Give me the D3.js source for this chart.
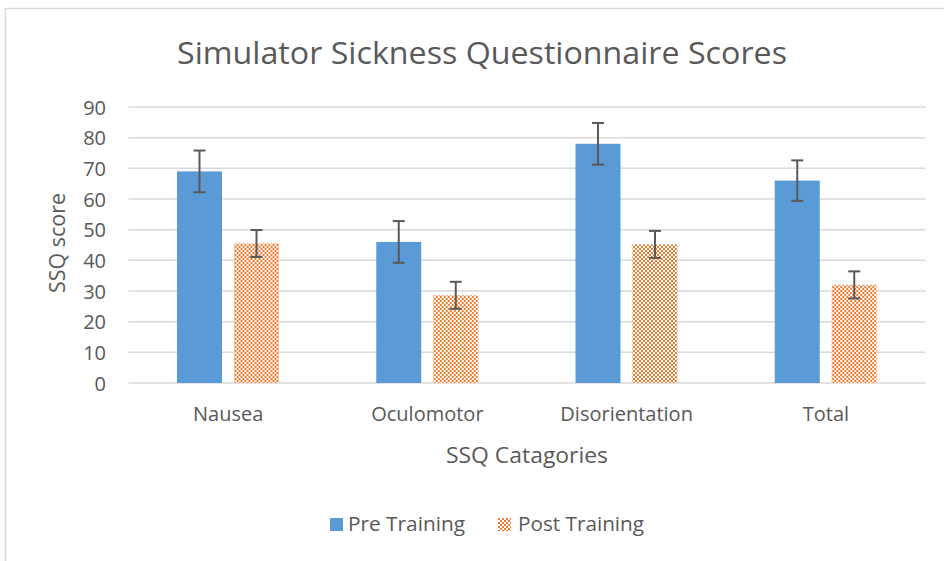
<!DOCTYPE html>
<html><head><meta charset="utf-8">
<script src="https://cdn.jsdelivr.net/npm/d3@7"></script>
<style>body{margin:0;background:#fff;}svg{display:block;}text{font-family:"Liberation Sans Narrow","Open Sans",sans-serif;fill:#595959;}</style>
</head><body>
<svg id="chart" width="944" height="561"></svg>
<script>
const categories = ["Nausea", "Oculomotor", "Disorientation", "Total"];
const seriesNames = ["Pre Training", "Post Training"];
const preValues = [69, 46, 78, 66];
const postValues = [45.5, 28.6, 45.2, 32];
const preErrors = [6.8, 6.8, 6.8, 6.6];
const postErrors = [4.4, 4.4, 4.4, 4.4];
const yTicks = [0, 10, 20, 30, 40, 50, 60, 70, 80, 90];

const svg = d3.select("#chart");
const blue = "#5B9BD5", orange = "#ED7D31", grid = "#D9D9D9", txt = "#595959";

const defs = svg.append("defs");
const pat = defs.append("pattern").attr("id", "checks").attr("patternUnits", "userSpaceOnUse")
  .attr("width", 4).attr("height", 4);
pat.append("rect").attr("width", 4).attr("height", 4).attr("fill", "#fff");
pat.append("rect").attr("x", 0).attr("y", 0).attr("width", 2).attr("height", 2).attr("fill", orange);
pat.append("rect").attr("x", 2).attr("y", 2).attr("width", 2).attr("height", 2).attr("fill", orange);

// chart border
svg.append("rect").attr("x", 5.5).attr("y", 8.5).attr("width", 960).attr("height", 600)
  .attr("fill", "none").attr("stroke", grid).attr("stroke-width", 1.5);

const plotLeft = 128.5, plotRight = 925.5, plotTop = 107, plotBottom = 383;
const x0 = d3.scaleBand().domain(categories).range([plotLeft, plotRight]).paddingInner(0).paddingOuter(0);
const y = d3.scaleLinear().domain([0, 90]).range([plotBottom, plotTop]);
const x1 = d3.scaleBand().domain(seriesNames).range([48.5, 150.5]).paddingInner(12/57);

// gridlines
svg.append("g").selectAll("line").data(yTicks).join("line")
  .attr("x1", plotLeft).attr("x2", plotRight)
  .attr("y1", d => y(d)).attr("y2", d => y(d))
  .attr("stroke", grid).attr("stroke-width", 1.5);

// y axis labels
const yAxis = d3.axisLeft(y).tickValues(yTicks).tickSize(0).tickPadding(0);
const yg = svg.append("g").attr("transform", `translate(${106},0)`).call(yAxis);
yg.select(".domain").remove();
yg.selectAll("text").style("font-size", "20px").attr("fill", txt).attr("dy", "0.36em")
  .style("font-family", "'Open Sans',sans-serif");

// x axis labels
const xAxis = d3.axisBottom(x0).tickSize(0).tickPadding(0);
const xg = svg.append("g").attr("transform", `translate(0,${407})`).call(xAxis);
xg.select(".domain").remove();
xg.selectAll("text").style("font-size", "20px").attr("fill", txt).attr("dy", "0.7em")
  .style("font-family", "'Open Sans',sans-serif");

const data = categories.map((c, i) => ({
  cat: c,
  vals: [
    {s: seriesNames[0], v: preValues[i], e: preErrors[i]},
    {s: seriesNames[1], v: postValues[i], e: postErrors[i]}
  ]
}));

const groups = svg.append("g").selectAll("g").data(data).join("g")
  .attr("transform", d => `translate(${x0(d.cat)},0)`);

groups.selectAll("rect").data(d => d.vals).join("rect")
  .attr("x", d => x1(d.s)).attr("width", x1.bandwidth())
  .attr("y", d => y(d.v)).attr("height", d => y(0) - y(d.v))
  .attr("fill", d => d.s === seriesNames[0] ? blue : "url(#checks)");

// error bars
const eb = groups.selectAll("g.err").data(d => d.vals).join("g").attr("class", "err");
eb.append("line")
  .attr("x1", d => x1(d.s) + x1.bandwidth()/2).attr("x2", d => x1(d.s) + x1.bandwidth()/2)
  .attr("y1", d => y(d.v + d.e)).attr("y2", d => y(d.v - d.e))
  .attr("stroke", txt).attr("stroke-width", 2);
eb.selectAll("line.cap").data(d => [{d, v: d.v + d.e}, {d, v: d.v - d.e}]).join("line").attr("class", "cap")
  .attr("x1", o => x1(o.d.s) + x1.bandwidth()/2 - 6).attr("x2", o => x1(o.d.s) + x1.bandwidth()/2 + 6)
  .attr("y1", o => y(o.v)).attr("y2", o => y(o.v))
  .attr("stroke", txt).attr("stroke-width", 2);

// title
svg.append("text").attr("x", 482).attr("y", 64).attr("text-anchor", "middle")
  .style("font-size", "31px").attr("textLength", 610).attr("lengthAdjust", "spacingAndGlyphs")
  .text("Simulator Sickness Questionnaire Scores");

// axis titles
svg.append("text").attr("x", 527).attr("y", 463).attr("text-anchor", "middle")
  .style("font-size", "22px").attr("textLength", 162).attr("lengthAdjust", "spacingAndGlyphs")
  .text("SSQ Catagories");
svg.append("text").attr("transform", "translate(65,243) rotate(-90)").attr("text-anchor", "middle")
  .style("font-size", "22px").attr("textLength", 100).attr("lengthAdjust", "spacingAndGlyphs")
  .text("SSQ score");

// legend
const legend = svg.append("g");
const legItems = [
  {name: seriesNames[0], fill: blue, x: 330, tx: 348, tl: 117},
  {name: seriesNames[1], fill: "url(#checks)", x: 498, tx: 518, tl: 126}
];
legItems.forEach(it => {
  legend.append("rect").attr("x", it.x).attr("y", 518).attr("width", 13).attr("height", 13).attr("fill", it.fill);
  legend.append("text").attr("x", it.tx).attr("y", 531).style("font-size", "20px")
    .attr("textLength", it.tl).attr("lengthAdjust", "spacingAndGlyphs").text(it.name);
});
</script>
</body></html>
